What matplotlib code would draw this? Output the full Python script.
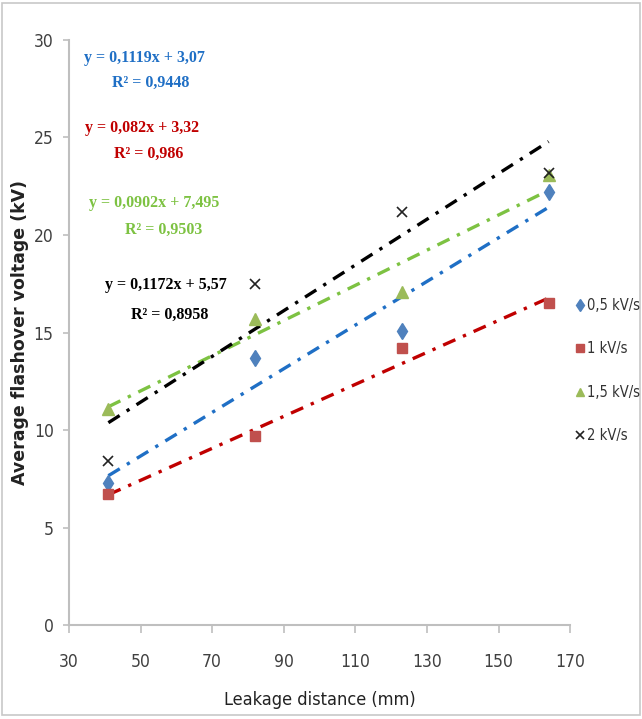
import matplotlib.pyplot as plt
import numpy as np
from matplotlib.patches import Rectangle
from matplotlib import font_manager as fm

# Data
leakage_mm = [41, 82, 123, 164]
v_05 = [7.3, 13.7, 15.1, 22.2]
v_1 = [6.7, 9.7, 14.2, 16.5]
v_15 = [11.1, 15.7, 17.1, 23.1]
v_2 = [8.4, 17.5, 21.2, 23.2]

labels = ["0,5 kV/s", "1 kV/s", "1,5 kV/s", "2 kV/s"]
slopes = [0.1119, 0.082, 0.0902, 0.1172]
intercepts = [3.07, 3.32, 7.495, 5.57]
eq_texts = ["y = 0,1119x + 3,07", "y = 0,082x + 3,32", "y = 0,0902x + 7,495", "y = 0,1172x + 5,57"]
r2_texts = ["R² = 0,9448", "R² = 0,986", "R² = 0,9503", "R² = 0,8958"]

SERIF = ["Liberation Serif", "DejaVu Serif"]

def narrow(size):
    return fm.FontProperties(family="DejaVu Sans", stretch="condensed", size=size)

def main():
    fig = plt.figure(figsize=(6.42, 7.19), dpi=100)
    ax = fig.add_axes([0.1075, 0.1307, 0.7805, 0.8137])

    series = [v_05, v_1, v_15, v_2]
    marker_styles = [
        dict(marker="d", color="#4F81BD", markersize=8),
        dict(marker="s", color="#C0504D", markersize=7.5),
        dict(marker="^", color="#9BBB59", markersize=8),
        dict(marker="x", color="#222222", markersize=7, markeredgewidth=1.2),
    ]
    line_colors = ["#1F6FC5", "#C00000", "#7DC242", "#000000"]

    # trend lines from the fitted equations shown on the chart
    xs = np.array([leakage_mm[0], leakage_mm[-1]])
    for i in [1, 0, 2, 3]:
        ax.plot(xs, slopes[i] * xs + intercepts[i], color=line_colors[i],
                lw=2.4, linestyle=(0, (4, 2.5, 1, 2.5)), zorder=2)

    handles = []
    for vals, st, lab in zip(series, marker_styles, labels):
        h, = ax.plot(leakage_mm, vals, linestyle="none", label=lab, zorder=3, **st)
        handles.append(h)

    ax.set_xlim(30, 170)
    ax.set_ylim(0, 30)
    ax.set_xticks(np.arange(30, 171, 20))
    ax.set_yticks(np.arange(0, 31, 5))

    for s in ["top", "right"]:
        ax.spines[s].set_visible(False)
    for s in ["left", "bottom"]:
        ax.spines[s].set_color("#BFBFBF")
        ax.spines[s].set_linewidth(1.5)
    ax.tick_params(axis="both", direction="out", width=1.2, color="#BFBFBF",
                   labelcolor="#404040")
    ax.tick_params(axis="x", length=6, pad=14)
    ax.tick_params(axis="y", length=4, pad=7)
    for lab in ax.get_xticklabels() + ax.get_yticklabels():
        lab.set_fontproperties(narrow(12.5))

    ax.set_xlabel("Leakage distance (mm)", fontproperties=narrow(13), color="#222222")
    ax.xaxis.set_label_coords(0.5, -0.113)
    ax.set_ylabel("Average flashover voltage (kV)", fontsize=12.5, fontweight="bold",
                  color="#222222")
    ax.yaxis.set_label_coords(-0.079, 0.5)

    # equation labels
    eq_pos = [(0.225, 0.920), (0.222, 0.822), (0.240, 0.717), (0.258, 0.603)]
    r2_pos = [(0.235, 0.885), (0.232, 0.786), (0.255, 0.680), (0.265, 0.562)]
    for i in range(4):
        fig.text(*eq_pos[i], eq_texts[i], color=line_colors[i], family=SERIF,
                 fontweight="bold", fontsize=11.5, ha="center", va="center")
        fig.text(*r2_pos[i], r2_texts[i], color=line_colors[i], family=SERIF,
                 fontweight="bold", fontsize=11.5, ha="center", va="center")

    leg = fig.legend(handles=handles, loc="upper left", bbox_to_anchor=(0.882, 0.600),
                     frameon=False, handlelength=0.5, handletextpad=0.2,
                     labelspacing=1.95, markerscale=0.75, borderpad=0.2,
                     prop=narrow(10.5))
    for t in leg.get_texts():
        t.set_color("#333333")

    # light frame round the picture
    fig.patches.append(Rectangle((0.003, 0.006), 0.994, 0.99, transform=fig.transFigure,
                                 fill=False, edgecolor="#C8C8C8", lw=1.2))

    fig.savefig("out.png", dpi=100)

if __name__ == "__main__":
    main()
